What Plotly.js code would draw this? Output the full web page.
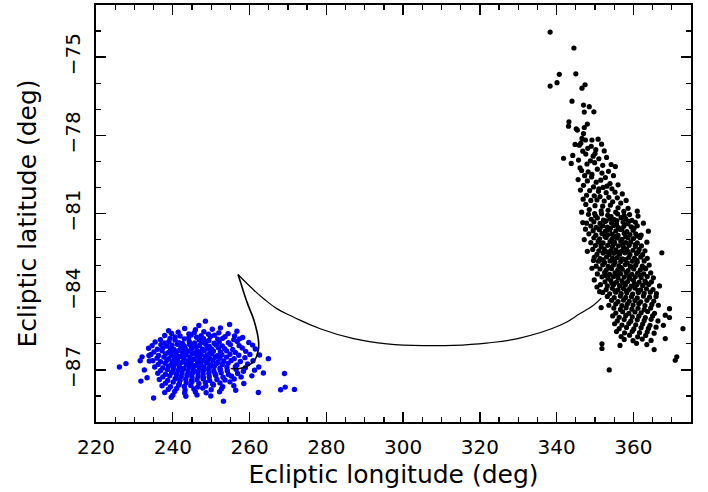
<!DOCTYPE html>
<html>
<head>
<meta charset="utf-8">
<script src="https://cdn.plot.ly/plotly-3.0.1.min.js"></script>
<style>html,body{margin:0;padding:0;background:#fff;}#chart{width:708px;height:492px;}</style>
</head>
<body>
<div id="chart"></div>
<script>
// Ecliptic longitude / latitude (deg)
var blackPoints = [
[338.3,-74.04],[344.5,-74.65],[340.7,-75.66],[345.0,-75.64],[338.3,-76.11],[340.1,-75.98],[347.4,-76.06],[346.6,-76.19],[344.0,-76.69],[347.0,-76.84],[348.5,-76.9],[347.2,-77.11],[349.7,-77.1],[343.2,-77.48],[343.1,-77.65],[345.1,-77.75],[345.4,-77.8],[347.2,-77.7],[348.0,-77.57],
[347.0,-77.93],[346.6,-78.12],[347.5,-78.18],[349.2,-78.18],[350.8,-78.15],[351.7,-78.34],[344.8,-78.35],[345.9,-78.38],[349.0,-78.42],[348.1,-78.5],[350.2,-78.55],[346.8,-78.61],[352.4,-78.6],[341.8,-78.88],[344.2,-78.77],[347.6,-78.72],[349.5,-78.8],[351.0,-78.9],[345.7,-78.95],[348.8,-78.98],[353.0,-78.85],[346.3,-78.3],[350.0,-78.7],[343.8,-79.08],[346.1,-79.25],[347.9,-79.1],[349.9,-79.05],[352.0,-79.15],[354.2,-79.12],[355.3,-79.2],
[346.5,-79.35],[348.2,-79.4],[350.6,-79.3],[351.8,-79.45],[353.5,-79.38],[347.3,-79.55],[349.1,-79.6],[352.7,-79.62],[354.8,-79.55],[345.6,-79.7],[348.0,-79.75],[350.3,-79.8],[351.5,-79.72],[353.9,-79.85],[356.0,-79.9],[347.0,-79.92],[349.6,-79.98],[352.1,-80.0],[354.4,-80.05],[346.2,-80.1],[348.6,-80.12],[350.9,-80.15],[352.9,-80.2],[355.2,-80.18],[357.1,-80.25],[347.8,-80.3],[349.8,-80.32],[351.3,-80.35],[353.6,-80.38],[355.8,-80.4],[346.9,-80.45],[348.9,-80.5],[350.5,-80.48],[352.4,-80.52],[354.6,-80.55],[356.7,-80.6],[358.1,-80.5],[349.2,-79.5],[351.0,-80.05],[353.1,-79.95],[347.6,-80.65],[350.0,-80.7],[352.0,-80.72],[354.0,-80.68],[356.0,-80.78],[358.6,-80.8],[348.5,-80.85],[351.6,-80.9],[353.4,-80.88],[355.4,-80.95],[357.5,-80.92],[361.0,-80.91],[349.9,-81.0],[346.5,-80.95],
[348.3,-81.03],[350.1,-81.09],[351.7,-81.01],[353.3,-81.07],[354.2,-81.12],[355.9,-81.02],[357.6,-81.08],[359.0,-81.04],[361.2,-81.1],
[349.0,-81.22],[350.6,-81.17],[352.2,-81.25],[353.9,-81.19],[355.0,-81.23],[356.8,-81.16],[358.0,-81.21],[359.6,-81.26],
[347.8,-81.37],[349.7,-81.32],[351.3,-81.38],[352.6,-81.31],[354.3,-81.36],[355.6,-81.4],[357.3,-81.33],[358.5,-81.39],[360.5,-81.34],[362.6,-81.37],[346.8,-81.35],
[348.9,-81.48],[350.3,-81.53],[352.0,-81.47],[353.2,-81.52],[354.9,-81.46],[356.1,-81.54],[357.5,-81.49],[359.4,-81.51],[361.0,-81.47],[347.5,-81.6],
[349.5,-81.66],[351.1,-81.62],[352.7,-81.68],[353.8,-81.63],[355.4,-81.67],[356.6,-81.61],[358.3,-81.69],[359.9,-81.64],[363.9,-81.68],
[348.4,-81.78],[350.2,-81.83],[351.8,-81.77],[353.3,-81.82],[354.4,-81.79],[356.0,-81.84],[357.6,-81.76],[359.1,-81.81],[360.6,-81.78],[362.0,-81.83],[347.2,-82.0],
[349.7,-81.93],[351.2,-81.97],[352.9,-81.92],[354.4,-81.98],[355.7,-81.94],[357.0,-81.99],[358.6,-81.93],[360.0,-81.96],[361.7,-81.92],
[348.9,-82.12],[350.8,-82.07],[352.1,-82.13],[353.9,-82.08],[355.1,-82.11],[356.7,-82.06],[358.0,-82.12],[359.3,-82.09],[361.0,-82.13],[363.5,-82.1],
[350.1,-82.23],[351.6,-82.28],[353.3,-82.22],[354.5,-82.27],[356.1,-82.24],[357.4,-82.29],[358.9,-82.22],[360.5,-82.26],[362.1,-82.24],
[349.4,-82.38],[351.0,-82.43],[352.4,-82.37],[354.1,-82.42],[355.4,-82.39],[356.9,-82.44],[358.2,-82.37],[359.9,-82.41],[361.5,-82.38],[363.0,-82.43],[348.0,-82.45],
[350.5,-82.57],[352.1,-82.52],[353.7,-82.58],[354.9,-82.53],[356.4,-82.56],[357.8,-82.51],[359.1,-82.57],[360.8,-82.54],[362.4,-82.58],[367.4,-82.51],
[349.8,-82.68],[351.3,-82.73],[353.0,-82.67],[354.6,-82.72],[355.8,-82.69],[357.1,-82.74],[358.8,-82.68],[360.3,-82.71],[361.9,-82.67],[363.6,-82.72],[349.6,-82.8],
[350.9,-82.83],[352.5,-82.88],[353.9,-82.82],[355.2,-82.87],[356.7,-82.84],[358.4,-82.89],[359.7,-82.83],[361.0,-82.86],[362.8,-82.82],
[350.3,-83.02],[352.0,-82.97],[353.4,-83.03],[354.8,-82.98],[356.2,-83.01],[357.9,-82.96],[359.2,-83.03],[360.6,-82.99],[362.3,-83.02],[364.1,-82.98],[349.2,-83.1],
[351.3,-83.13],[352.9,-83.18],[354.3,-83.12],[355.9,-83.17],[357.1,-83.14],[358.6,-83.19],[360.1,-83.13],[361.8,-83.16],[363.2,-83.12],
[350.6,-83.32],[352.5,-83.27],[353.8,-83.33],[355.2,-83.28],[356.6,-83.31],[358.1,-83.26],[359.6,-83.33],[361.1,-83.29],[362.7,-83.32],[364.5,-83.28],
[351.8,-83.43],[353.4,-83.48],[354.8,-83.42],[356.0,-83.47],[357.6,-83.44],[359.0,-83.49],[360.5,-83.43],[362.0,-83.46],[363.6,-83.42],[365.2,-83.47],[349.8,-83.55],
[352.6,-83.62],[354.1,-83.57],[355.6,-83.63],[357.0,-83.58],[358.5,-83.61],[360.0,-83.56],[361.5,-83.63],[363.0,-83.59],[364.7,-83.62],
[351.4,-83.73],[353.2,-83.78],[354.9,-83.72],[356.4,-83.77],[357.9,-83.74],[359.4,-83.79],[360.9,-83.73],[362.4,-83.76],[364.0,-83.72],[366.8,-83.78],[350.5,-83.82],
[352.9,-83.92],[354.5,-83.87],[356.0,-83.93],[357.4,-83.88],[358.9,-83.91],[360.4,-83.86],[361.9,-83.93],[363.4,-83.89],[365.1,-83.92],[351.2,-84.0],
[352.0,-84.03],[353.8,-84.08],[355.4,-84.02],[356.8,-84.07],[358.3,-84.04],[359.8,-84.09],[361.3,-84.03],[362.8,-84.06],[364.4,-84.02],[366.0,-84.07],
[352.9,-81.28],[355.7,-81.27],[358.8,-81.3],[351.3,-81.58],[354.0,-81.57],[357.0,-81.59],[360.2,-81.56],[352.6,-81.88],[355.0,-81.87],[358.0,-81.89],[361.0,-81.86],[351.5,-82.17],[354.8,-82.18],[357.2,-82.16],[360.5,-82.19],[353.0,-82.47],[355.8,-82.48],[358.6,-82.46],[361.2,-82.49],[352.1,-82.78],[355.0,-82.79],[357.9,-82.77],[360.9,-82.8],[353.7,-83.07],[356.8,-83.08],[359.8,-83.06],[362.9,-83.09],[352.8,-83.38],[355.9,-83.37],[358.8,-83.39],[361.8,-83.36],[354.4,-83.68],[357.3,-83.67],[360.3,-83.69],[363.3,-83.66],[355.2,-83.97],[358.2,-83.98],[361.2,-83.96],
[353.2,-84.18],[355.0,-84.23],[356.6,-84.17],[358.0,-84.22],[359.5,-84.19],[361.0,-84.24],[362.6,-84.17],[364.2,-84.21],[365.9,-84.18],
[354.3,-84.33],[356.0,-84.38],[357.4,-84.32],[358.9,-84.37],[360.4,-84.34],[361.9,-84.39],[363.5,-84.33],[365.3,-84.36],
[353.6,-84.52],[355.4,-84.47],[357.0,-84.53],[358.4,-84.48],[359.9,-84.51],[361.4,-84.46],[363.0,-84.53],[364.8,-84.49],[366.5,-84.52],[351.6,-84.61],
[354.9,-84.63],[356.6,-84.68],[358.1,-84.62],[359.6,-84.67],[361.2,-84.64],[362.8,-84.69],[364.5,-84.63],[369.4,-84.65],
[355.4,-84.82],[357.2,-84.77],[358.8,-84.83],[360.4,-84.78],[362.0,-84.81],[363.7,-84.76],[365.5,-84.83],[368.3,-84.9],
[354.6,-84.93],[356.3,-84.98],[358.0,-84.92],[359.7,-84.97],[361.4,-84.94],[363.1,-84.99],[365.0,-84.93],[369.4,-84.99],
[355.8,-85.12],[357.6,-85.07],[359.3,-85.13],[361.0,-85.08],[362.8,-85.11],[364.6,-85.06],[366.4,-85.12],
[355.1,-85.23],[357.0,-85.28],[358.8,-85.22],[360.6,-85.27],[362.4,-85.24],[364.3,-85.29],[367.8,-85.29],
[356.3,-85.42],[358.2,-85.37],[360.1,-85.43],[362.0,-85.38],[363.9,-85.41],[365.9,-85.36],[372.9,-85.42],
[355.6,-85.53],[357.7,-85.58],[359.7,-85.52],[361.6,-85.57],[363.6,-85.54],[365.4,-85.59],
[356.8,-85.72],[359.0,-85.67],[361.1,-85.73],[363.2,-85.68],[368.3,-85.8],
[357.6,-85.83],[359.9,-85.88],[362.3,-85.82],[364.6,-85.87],
[351.8,-86.0],[356.5,-86.06],[360.8,-85.98],[363.5,-86.03],
[351.8,-86.18],[353.7,-87.0],[365.4,-86.22],[371.3,-86.5],[370.9,-86.63]
];

var bluePoints = [
[226.1,-86.89],[227.8,-86.76],[248.5,-85.13],[254.8,-85.26],[256.7,-85.52],[246.8,-85.3],[264.9,-86.57],[269.1,-87.14],[269.3,-87.66],[268.1,-87.76],[271.7,-87.75],[262.3,-87.87],[253.2,-88.2],[235.0,-88.08],[239.6,-88.05],[231.7,-87.43],[232.0,-86.5],[231.5,-86.65],[233.9,-86.66],[233.8,-86.45],[232.6,-87.0],[233.3,-87.3],
[243.1,-85.41],[245.9,-85.46],[250.3,-85.44],[252.4,-85.39],[238.9,-85.5],
[239.7,-85.6],[241.4,-85.55],[244.2,-85.62],[245.6,-85.57],[248.1,-85.54],[249.3,-85.63],[252.0,-85.58],[254.4,-85.61],
[237.9,-85.68],[240.6,-85.74],[241.9,-85.7],[244.8,-85.66],[246.2,-85.75],[247.4,-85.69],[249.8,-85.72],[250.9,-85.67],[253.6,-85.73],[256.1,-85.7],[258.2,-85.76],
[236.8,-85.84],[239.3,-85.79],[240.6,-85.86],[243.0,-85.81],[244.1,-85.78],[246.9,-85.85],[248.0,-85.8],[249.4,-85.87],[251.7,-85.82],[253.0,-85.79],[255.9,-85.84],[257.4,-85.81],
[235.4,-85.93],[237.9,-85.97],[239.0,-85.91],[241.6,-85.96],[242.5,-85.99],[244.3,-85.92],[245.7,-85.97],[247.6,-85.94],[248.4,-85.9],[250.8,-85.98],[252.1,-85.93],[254.5,-85.96],[256.8,-85.91],[259.8,-85.95],
[234.6,-86.07],[236.9,-86.03],[238.5,-86.09],[239.8,-86.05],[241.2,-86.02],[243.0,-86.08],[244.4,-86.04],[245.3,-86.1],[247.0,-86.06],[248.6,-86.02],[249.5,-86.09],[251.3,-86.05],[252.9,-86.08],[255.0,-86.03],[257.3,-86.07],[260.8,-86.05],
[233.7,-86.17],[236.0,-86.21],[237.4,-86.15],[239.4,-86.19],[240.3,-86.22],[242.1,-86.16],[243.3,-86.2],[244.9,-86.18],[246.1,-86.14],[247.7,-86.21],[248.9,-86.17],[250.1,-86.2],[251.9,-86.15],[253.5,-86.19],[255.6,-86.22],[258.1,-86.16],[261.5,-86.2],
[235.1,-86.31],[237.2,-86.27],[238.9,-86.33],[240.0,-86.29],[241.5,-86.26],[242.6,-86.32],[244.0,-86.28],[245.8,-86.34],[246.7,-86.3],[248.2,-86.26],[249.7,-86.32],[250.6,-86.28],[252.4,-86.31],[254.0,-86.27],[256.3,-86.33],[259.0,-86.29],
[234.3,-86.41],[236.3,-86.45],[238.1,-86.39],[239.6,-86.44],[240.9,-86.4],[242.3,-86.46],[243.5,-86.42],[245.0,-86.38],[246.3,-86.45],[247.4,-86.41],[248.9,-86.43],[250.2,-86.39],[251.6,-86.46],[252.8,-86.42],[254.9,-86.4],[257.2,-86.44],[260.1,-86.41],[262.6,-86.43],
[235.9,-86.55],[237.7,-86.51],[239.0,-86.57],[240.5,-86.53],[241.8,-86.5],[242.9,-86.56],[244.5,-86.52],[245.6,-86.58],[247.0,-86.54],[248.4,-86.5],[249.6,-86.56],[251.1,-86.52],[252.3,-86.55],[254.0,-86.51],[256.0,-86.57],[258.8,-86.53],
[234.8,-86.65],[236.8,-86.69],[238.5,-86.63],[239.9,-86.68],[241.2,-86.64],[242.6,-86.7],[243.9,-86.66],[245.1,-86.62],[246.5,-86.69],[247.8,-86.65],[249.0,-86.67],[250.4,-86.63],[251.8,-86.7],[253.3,-86.66],[255.2,-86.64],[257.6,-86.68],[260.9,-86.65],
[236.2,-86.79],[238.0,-86.75],[239.5,-86.81],[240.7,-86.77],[242.0,-86.74],[243.6,-86.8],[244.8,-86.76],[246.0,-86.82],[247.3,-86.78],[248.8,-86.74],[250.0,-86.8],[251.4,-86.76],[252.9,-86.79],[254.4,-86.75],[256.7,-86.81],[259.5,-86.77],
[235.3,-86.89],[237.4,-86.93],[238.9,-86.87],[240.2,-86.92],[241.7,-86.88],[242.9,-86.94],[244.3,-86.9],[245.6,-86.86],[246.9,-86.93],[248.1,-86.89],[249.5,-86.91],[250.8,-86.87],[252.3,-86.94],[254.1,-86.9],[256.3,-86.88],[258.9,-86.92],[262.4,-86.89],
[236.8,-87.03],[238.6,-86.99],[240.0,-87.05],[241.4,-87.01],[242.7,-86.98],[244.0,-87.04],[245.4,-87.0],[246.6,-87.06],[248.0,-87.02],[249.3,-86.98],[250.7,-87.04],[252.4,-87.0],[254.2,-87.03],[256.5,-86.99],[258.4,-87.05],[261.3,-87.01],
[236.1,-87.13],[238.1,-87.17],[239.7,-87.11],[241.0,-87.16],[242.4,-87.12],[243.8,-87.18],[245.1,-87.14],[246.5,-87.1],[247.9,-87.17],[249.4,-87.13],[251.0,-87.15],[252.6,-87.11],[254.5,-87.18],[256.9,-87.14],[263.6,-87.12],
[237.4,-87.27],[239.2,-87.23],[240.9,-87.29],[242.2,-87.25],[243.7,-87.22],[245.0,-87.28],[246.6,-87.24],[248.0,-87.3],[249.5,-87.26],[251.2,-87.22],[253.1,-87.28],[255.3,-87.24],[257.8,-87.27],[260.6,-87.23],
[236.5,-87.37],[238.7,-87.41],[240.6,-87.35],[241.9,-87.4],[243.4,-87.36],[244.9,-87.42],[246.3,-87.38],[247.9,-87.34],[249.6,-87.41],[251.5,-87.37],[253.6,-87.39],[256.0,-87.35],
[238.1,-87.51],[240.1,-87.47],[241.7,-87.53],[243.5,-87.49],[245.0,-87.46],[246.8,-87.52],[248.5,-87.48],[250.4,-87.54],[252.3,-87.5],[254.9,-87.46],[258.5,-87.52],
[237.2,-87.61],[239.4,-87.65],[241.5,-87.59],[243.0,-87.64],[244.7,-87.6],[246.5,-87.66],[248.6,-87.62],[250.6,-87.58],[253.0,-87.65],[255.9,-87.61],
[238.8,-87.75],[241.0,-87.71],[243.2,-87.77],[245.5,-87.73],[247.8,-87.7],[250.0,-87.76],[252.7,-87.72],[256.4,-87.78],
[237.9,-87.87],[240.5,-87.83],[243.1,-87.89],[245.9,-87.85],[248.7,-87.88],[252.2,-87.84],
[240.0,-87.97],[243.4,-88.01],[246.3,-87.96],[249.9,-88.0]
];

// the curve: lobe from its end inside the blue cloud up to the cusp ...
var lobeLon = [255.1,258.1,261.1,262.3,262.3,261.1,259.4,257.7,257.0];
var lobeLat = [-86.95,-86.93,-86.67,-86.23,-85.84,-85.08,-84.43,-83.66,-83.34];
// ... and arc from the cusp to the black cloud
var arcLon = [257.0,260.7,263.6,267.1,271.4,278.4,287.1,295.8,307.0,313.0,321.7,330.4,340.9,346.1,349.6,351.6];
var arcLat = [-83.34,-83.88,-84.26,-84.65,-84.97,-85.42,-85.80,-86.00,-86.07,-86.06,-85.97,-85.78,-85.29,-84.84,-84.52,-84.25];

var xTickVals = [220,240,260,280,300,320,340,360];
var yTickVals = [-87,-84,-81,-78,-75];

var FONT = '"DejaVu Sans ExtraLight", "DejaVu Sans", sans-serif';

function col(arr, i){ return arr.map(function(p){ return p[i]; }); }

var traces = [
  {type:'scatter', mode:'markers', x:col(bluePoints,0), y:col(bluePoints,1),
   marker:{color:'#0000ff', size:5.4, line:{width:0}}, hoverinfo:'skip'},
  {type:'scatter', mode:'lines', x:lobeLon, y:lobeLat, line:{color:'#000', width:1.6, shape:'spline', smoothing:1}, hoverinfo:'skip'},
  {type:'scatter', mode:'lines', x:arcLon, y:arcLat, line:{color:'#000', width:1.2, shape:'spline', smoothing:1.3}, hoverinfo:'skip'},
  {type:'scatter', mode:'markers', x:col(blackPoints,0), y:col(blackPoints,1),
   marker:{color:'#000', size:5.2, line:{width:0}}, hoverinfo:'skip'}
];

var layout = {
  width:708, height:492,
  margin:{l:96, r:17, t:5, b:70, pad:0},
  paper_bgcolor:'#fff', plot_bgcolor:'#fff',
  showlegend:false,
  font:{family:FONT, color:'#000', size:20},
  xaxis:{
    range:[220,375], tickmode:'array', tickvals:xTickVals, ticks:'inside', ticklen:10, tickwidth:1.3, tickcolor:'#000',
    minor:{dtick:5, tick0:220, ticks:'inside', ticklen:5, tickwidth:1.3, tickcolor:'#000'},
    showline:true, linecolor:'#000', linewidth:1.6, mirror:'allticks', showgrid:false, zeroline:false,
    tickfont:{family:FONT, size:20, color:'#000'}, ticklabelstandoff:6,
    title:{text:'Ecliptic longitude (deg)', font:{family:FONT, size:25, color:'#000'}, standoff:8},
    automargin:false, fixedrange:true
  },
  yaxis:{
    range:[-89,-73], tickmode:'array', tickvals:yTickVals, ticks:'inside', ticklen:10, tickwidth:1.3, tickcolor:'#000',
    minor:{dtick:1, tick0:-87, ticks:'inside', ticklen:5, tickwidth:1.3, tickcolor:'#000'},
    showline:true, linecolor:'#000', linewidth:1.6, mirror:'allticks', showgrid:false, zeroline:false,
    tickangle:-90, tickfont:{family:FONT, size:20, color:'#000'}, ticklabelstandoff:6,
    title:{text:'Ecliptic latitude (deg)', font:{family:FONT, size:25, color:'#000'}, standoff:17},
    automargin:false, fixedrange:true
  }
};

Plotly.newPlot('chart', traces, layout, {staticPlot:true, displayModeBar:false});
</script>
</body>
</html>
